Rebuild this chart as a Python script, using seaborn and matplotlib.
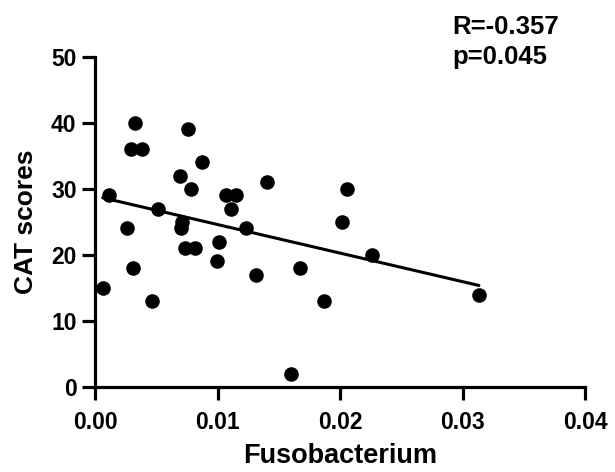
import numpy as np
import pandas as pd
import matplotlib
matplotlib.use("Agg")
import matplotlib.pyplot as plt
import seaborn as sns

# values
fuso = [0.0006, 0.0011, 0.0026, 0.0029, 0.0032, 0.0031, 0.0038, 0.0046,
        0.0051, 0.0069, 0.0070, 0.0071, 0.0073, 0.0076, 0.0078, 0.0081,
        0.0087, 0.0099, 0.0101, 0.0107, 0.0111, 0.0115, 0.0123, 0.0131,
        0.0140, 0.0160, 0.0167, 0.0187, 0.0201, 0.0205, 0.0226, 0.0313]
cat = [15, 29, 24, 36, 40, 18, 36, 13,
       27, 32, 24, 25, 21, 39, 30, 21,
       34, 19, 22, 29, 27, 29, 24, 17,
       31, 2, 18, 13, 25, 30, 20, 14]
stats_txt = "R=-0.357\np=0.045"

df = pd.DataFrame({"Fusobacterium": fuso, "CAT scores": cat})

sns.set_style("ticks")
plt.rcParams["font.family"] = ["Liberation Sans", "DejaVu Sans"]
plt.rcParams["font.weight"] = "bold"
plt.rcParams["text.color"] = "black"
plt.rcParams["axes.labelcolor"] = "black"
plt.rcParams["xtick.color"] = "black"
plt.rcParams["ytick.color"] = "black"
plt.rcParams["axes.edgecolor"] = "black"

fig = plt.figure(figsize=(6.15, 4.72), dpi=100)
ax = fig.add_axes([0.155, 0.18, 0.797, 0.70])

sns.regplot(data=df, x="Fusobacterium", y="CAT scores", scatter=False,
            ci=None, truncate=True, color="black", line_kws={"lw": 2.2}, ax=ax)
sns.scatterplot(data=df, x="Fusobacterium", y="CAT scores", color="black",
                s=110, edgecolor="black", linewidth=0, ax=ax, zorder=3)

ax.set_xlim(0, 0.04)
ax.set_ylim(0, 50)
ax.set_xticks([0, 0.01, 0.02, 0.03, 0.04])
ax.set_xticklabels(["0.00", "0.01", "0.02", "0.03", "0.04"])
ax.set_yticks([0, 10, 20, 30, 40, 50])

for s in ["top", "right"]:
    ax.spines[s].set_visible(False)
for s in ["left", "bottom"]:
    ax.spines[s].set_linewidth(2.3)
    ax.spines[s].set_clip_on(False)
ax.tick_params(width=2.3, length=9.5, labelsize=16.5)
ax.tick_params(axis="x", pad=8)
ax.tick_params(axis="y", pad=4)
for lab in ax.get_xticklabels() + ax.get_yticklabels():
    lab.set_fontweight("bold")

ax.set_xlabel("Fusobacterium", fontsize=19.5, fontweight="bold", labelpad=6)
ax.set_ylabel("CAT scores", fontsize=19, fontweight="bold", labelpad=9)

fig.text(0.735, 0.968, stats_txt, fontsize=18.5, fontweight="bold",
         va="top", ha="left", linespacing=1.3)

fig.savefig("out.png", dpi=100)
